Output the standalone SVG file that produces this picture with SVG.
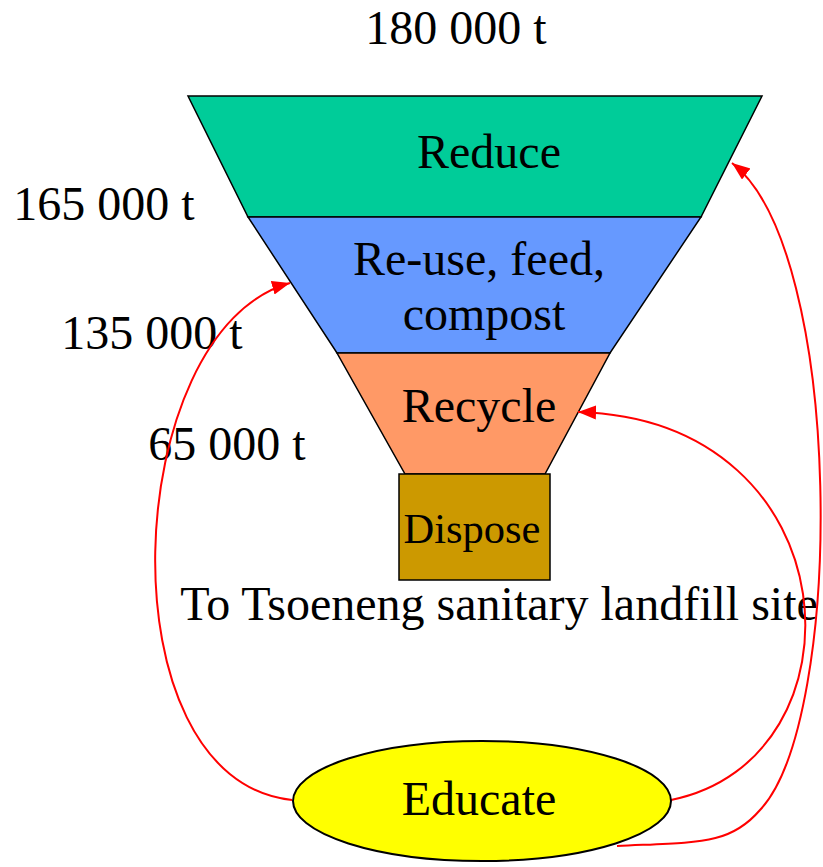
<svg xmlns="http://www.w3.org/2000/svg" width="823" height="867" viewBox="0 0 823 867">
<defs>
<style>
.shape{stroke:#000;stroke-width:1.5}
.t{font-family:"Liberation Serif","Times New Roman",serif;font-size:48px;fill:#000;text-anchor:middle}
.conn{fill:none;stroke:#FF0000;stroke-width:2}
</style>
<marker id="ah" markerUnits="userSpaceOnUse" markerWidth="20" markerHeight="16" refX="18" refY="7" orient="auto">
<path d="M0,0 L18,7 L0,14 z" fill="#FF0000"/>
</marker>
</defs>
<rect width="823" height="867" fill="#fff"/>
<g id="reduce">
<polygon class="shape" points="188,96 762,96 701,217 248,217" fill="#00CC99"/>
<text class="t" x="489" y="168">Reduce</text>
</g>
<g id="reuse">
<polygon class="shape" points="248,217 701,217 610,353 337,353" fill="#6699FF"/>
<text class="t" x="479" y="275">Re-use, feed,</text>
<text class="t" x="484" y="330">compost</text>
</g>
<g id="recycle">
<polygon class="shape" points="337,353 610,353 545,474 405,474" fill="#FF9966"/>
<text class="t" x="479" y="422">Recycle</text>
</g>
<g id="dispose">
<rect class="shape" x="399" y="474" width="151" height="106" fill="#CC9900"/>
<text class="t" x="472" y="543" style="font-size:42.5px">Dispose</text>
</g>
<g id="labels">
<text class="t" x="456" y="44">180 000 t</text>
<text class="t" x="104" y="220">165 000 t</text>
<text class="t" x="152" y="349">135 000 t</text>
<text class="t" x="227" y="460">65 000 t</text>
<text class="t" x="499" y="620">To Tsoeneng sanitary landfill site</text>
</g>
<g id="connectors">
<path class="conn" d="M292,800 C100,780 120,330 290,283" marker-end="url(#ah)"/>
<path class="conn" d="M671,800 C870,760 855,420 578,412" marker-end="url(#ah)"/>
<path class="conn" d="M617,846 C700,842 730,845 760,810 C845,720 845,250 732,163" marker-end="url(#ah)"/>
</g>
<g id="educate">
<ellipse class="shape" cx="482" cy="801" rx="189" ry="60" fill="#FFFF00" style="stroke-width:2"/>
<text class="t" x="479" y="815">Educate</text>
</g>
</svg>
